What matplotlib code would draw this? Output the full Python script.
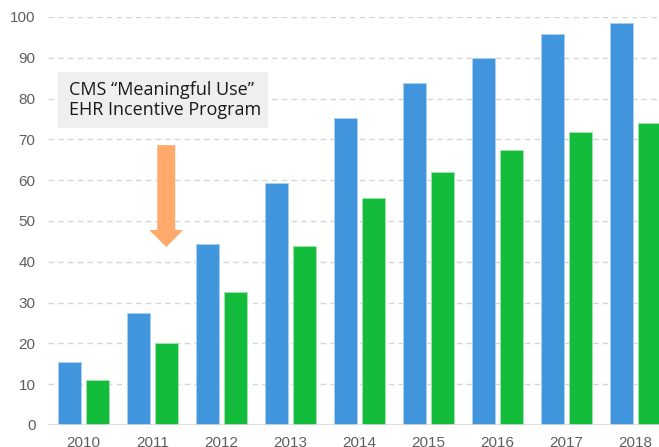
import matplotlib
matplotlib.use("Agg")
import matplotlib.pyplot as plt
import matplotlib.patches as mpatches
import numpy as np

years = ["2010", "2011", "2012", "2013", "2014", "2015", "2016", "2017", "2018"]
series_blue = [15.5, 27.4, 44.4, 59.3, 75.3, 83.8, 89.9, 95.8, 98.5]
series_green = [11.1, 20.0, 32.7, 43.9, 55.7, 62.0, 67.4, 71.9, 73.9]
y_ticks = [0, 10, 20, 30, 40, 50, 60, 70, 80, 90, 100]
callout_text = "CMS \u201cMeaningful Use\u201d\nEHR Incentive Program"

BLUE = "#4095dd"
GREEN = "#13bd3b"
ORANGE = "#ffa96b"

W, H = 659, 447
fig = plt.figure(figsize=(W / 100, H / 100), dpi=100)
ax = fig.add_axes([48 / W, 22 / H, (W - 48) / W, (425 - 17) / H])

x = np.arange(len(years))
bw = 0.335
off = 0.203
ax.bar(x - off, series_blue, bw, color=BLUE, edgecolor="#a9d0f2", linewidth=0.7, zorder=3)
ax.bar(x + off, series_green, bw, color=GREEN, edgecolor="#9fe3ad", linewidth=0.7, zorder=3)

ax.set_xlim(-0.514, (W - 83.5) / 69)
ax.set_ylim(0, 100)
ax.set_yticks(y_ticks)
ax.set_xticks(x)
ax.set_xticklabels(years)
ax.tick_params(axis="both", length=0, labelsize=11, labelcolor="#5f5f5f")
for lbl in ax.get_xticklabels() + ax.get_yticklabels():
    lbl.set_family("Liberation Sans")
ax.tick_params(axis="y", pad=9)
ax.tick_params(axis="x", pad=8)

for yv in y_ticks[1:]:
    ax.axhline(yv, color="#d6d6d6", linewidth=1.0, dashes=(4, 3), zorder=1)
ax.axhline(0, color="#d9d9d9", linewidth=1.2, zorder=4)

for s in ax.spines.values():
    s.set_visible(False)

# Downward arrow marking the program start
ax.add_patch(mpatches.FancyArrow(
    1.2, 68.6, 0, -25.0, width=0.26, head_width=0.49, head_length=4.2,
    length_includes_head=True, color=ORANGE, linewidth=0, zorder=5))

# Callout box
fig.patches.append(mpatches.Rectangle(
    (58 / W, 1 - 128 / H), (268 - 58) / W, (128 - 72) / H,
    transform=fig.transFigure, facecolor="#efefef", edgecolor="none", zorder=6))
fig.text(69 / W, 1 - 100 / H, callout_text, ha="left", va="center",
         fontsize=13, family="Open Sans", color="#1a1a1a",
         linespacing=1.2, zorder=7)

fig.savefig("out.png", dpi=100)
